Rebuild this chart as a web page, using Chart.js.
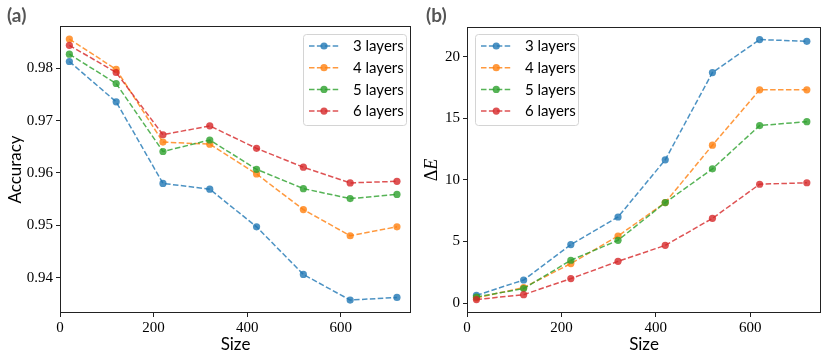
<!DOCTYPE html>
<html><head><meta charset="utf-8">
<script src="https://cdn.jsdelivr.net/npm/chart.js@4"></script>
<style>
html,body{margin:0;padding:0;background:#fff;}
#wrap{position:relative;width:830px;height:358px;overflow:hidden;background:#fff;}
.pane{position:absolute;top:0;width:415px;height:358px;}
.lab{position:absolute;font-family:Lato,"DejaVu Sans",sans-serif;font-weight:bold;font-size:19px;color:#555;line-height:22px;}
</style></head><body>
<div id="wrap">
<div class="pane" style="left:0"><canvas id="c1" width="415" height="358"></canvas></div>
<div class="pane" style="left:415px"><canvas id="c2" width="415" height="358"></canvas></div>
<div class="lab" style="left:7px;top:4px">(a)</div>
<div class="lab" style="left:426px;top:4px">(b)</div>
</div>
<script>
// ---- data ----
const sizes = [20, 120, 220, 320, 420, 520, 620, 720];
const seriesLabels = ['3 layers', '4 layers', '5 layers', '6 layers'];
const acc3 = [0.9813, 0.9736, 0.9580, 0.9569, 0.9497, 0.9406, 0.9357, 0.9362];
const acc4 = [0.9856, 0.9798, 0.9659, 0.9655, 0.9598, 0.9530, 0.9480, 0.9497];
const acc5 = [0.9827, 0.9771, 0.9641, 0.9663, 0.9607, 0.9570, 0.9551, 0.9559];
const acc6 = [0.9844, 0.9792, 0.9673, 0.9690, 0.9647, 0.9611, 0.9581, 0.9584];
const de3 = [0.62, 1.87, 4.74, 6.98, 11.62, 18.70, 21.38, 21.24];
const de4 = [0.42, 1.25, 3.20, 5.44, 8.15, 12.81, 17.30, 17.30];
const de5 = [0.49, 1.17, 3.47, 5.09, 8.15, 10.89, 14.40, 14.72];
const de6 = [0.28, 0.68, 1.98, 3.38, 4.68, 6.87, 9.64, 9.76];
const xTicks = [0, 200, 400, 600];
const accTicks = [0.94, 0.95, 0.96, 0.97, 0.98];
const deTicks = [0, 5, 10, 15, 20];

const colors = ['rgba(31,119,180,0.8)', 'rgba(255,127,14,0.8)', 'rgba(44,160,44,0.8)', 'rgba(214,39,40,0.8)'];

function makeDatasets(arrs) {
  return arrs.map((a, i) => ({
    label: seriesLabels[i],
    data: a.map((v, j) => ({x: sizes[j], y: v})),
    borderColor: colors[i],
    backgroundColor: colors[i],
    pointBackgroundColor: colors[i],
    pointBorderWidth: 0,
    pointRadius: 3.6,
    borderWidth: 1.5,
    borderDash: [5.5, 2.4],
    tension: 0,
    fill: false,
    order: 4 - i
  }));
}

const framePlugin = {
  id: 'frame',
  afterDraw(chart) {
    const a = chart.chartArea, ctx = chart.ctx;
    ctx.save();
    ctx.strokeStyle = '#222';
    ctx.lineWidth = 1;
    ctx.strokeRect(Math.round(a.left) + 0.5, Math.round(a.top) + 0.5, Math.round(a.right - a.left) - 1, Math.round(a.bottom - a.top) - 1);
    ctx.restore();
  }
};

// mathtext-like y title: upright Delta, italic E
const mathTitlePlugin = {
  id: 'mathTitle',
  afterDraw(chart, args, o) {
    if (!o || !o.parts) return;
    const ctx = chart.ctx, a = chart.chartArea;
    ctx.save();
    ctx.translate(o.x, (a.top + a.bottom) / 2);
    ctx.rotate(-Math.PI / 2);
    ctx.fillStyle = '#000';
    ctx.textBaseline = 'middle';
    ctx.textAlign = 'left';
    let total = 0;
    o.parts.forEach(p => { ctx.font = p.font; total += ctx.measureText(p.text).width; });
    let cx = -total / 2;
    o.parts.forEach(p => { ctx.font = p.font; ctx.fillText(p.text, cx, 0); cx += ctx.measureText(p.text).width; });
    ctx.restore();
  }
};

const legendPlugin = {
  id: 'inLegend',
  afterDraw(chart, args, o) {
    const ctx = chart.ctx;
    ctx.save();
    const x = o.x, y = o.y, w = o.w, h = o.h, r = 3;
    ctx.beginPath();
    ctx.moveTo(x + r, y);
    ctx.lineTo(x + w - r, y); ctx.arcTo(x + w, y, x + w, y + r, r);
    ctx.lineTo(x + w, y + h - r); ctx.arcTo(x + w, y + h, x + w - r, y + h, r);
    ctx.lineTo(x + r, y + h); ctx.arcTo(x, y + h, x, y + h - r, r);
    ctx.lineTo(x, y + r); ctx.arcTo(x, y, x + r, y, r);
    ctx.closePath();
    ctx.fillStyle = 'rgba(255,255,255,0.8)';
    ctx.fill();
    ctx.strokeStyle = '#d4d4d4';
    ctx.lineWidth = 1;
    ctx.stroke();
    chart.data.datasets.forEach((ds, i) => {
      const yy = o.y0 + i * o.dy;
      ctx.strokeStyle = ds.borderColor;
      ctx.lineWidth = 1.5;
      ctx.setLineDash([5.5, 2.4]);
      ctx.beginPath(); ctx.moveTo(o.lx1, yy); ctx.lineTo(o.lx2, yy); ctx.stroke();
      ctx.setLineDash([]);
      ctx.fillStyle = ds.pointBackgroundColor;
      ctx.beginPath(); ctx.arc((o.lx1 + o.lx2) / 2, yy, 3.6, 0, Math.PI * 2); ctx.fill();
      ctx.fillStyle = '#000';
      ctx.font = '15px Lato, "DejaVu Sans", sans-serif';
      ctx.textBaseline = 'middle';
      ctx.textAlign = 'left';
      ctx.fillText(ds.label, o.tx, yy + 0.5);
    });
    ctx.restore();
  }
};

const tickFont = {family: '"Liberation Serif", "DejaVu Serif", serif', size: 15};
const titleFont = {family: 'Lato, "DejaVu Sans", sans-serif', size: 17};

function makeChart(id, datasets, cfg) {
  return new Chart(document.getElementById(id), {
    type: 'line',
    data: {datasets},
    plugins: [framePlugin, legendPlugin, mathTitlePlugin],
    options: {
      responsive: false,
      animation: false,
      devicePixelRatio: 1,
      layout: {padding: {left: 0, right: cfg.padRight, top: cfg.padTop, bottom: 0}},
      plugins: {
        legend: {display: false},
        tooltip: {enabled: false},
        inLegend: cfg.legend,
        mathTitle: cfg.mathTitle || {}
      },
      scales: {
        x: {
          type: 'linear',
          min: 0, max: 750,
          afterFit: s => { s.height = 45; },
          afterBuildTicks: s => { s.ticks = xTicks.map(v => ({value: v})); },
          ticks: {font: tickFont, color: '#000', padding: 2, maxRotation: 0, callback: v => String(v)},
          grid: {display: true, drawOnChartArea: false, drawTicks: true, tickLength: 4, color: '#222', lineWidth: 1},
          border: {display: false},
          title: {display: true, text: 'Size', font: titleFont, color: '#000', padding: {top: 0, bottom: 3}}
        },
        y: {
          type: 'linear',
          min: cfg.yMin, max: cfg.yMax,
          afterFit: s => { s.width = cfg.yWidth; },
          afterBuildTicks: s => { s.ticks = cfg.yTicks.map(v => ({value: v})); },
          ticks: {font: tickFont, color: '#000', padding: 3, callback: cfg.fmt},
          grid: {display: true, drawOnChartArea: false, drawTicks: true, tickLength: 4, color: '#222', lineWidth: 1},
          border: {display: false},
          title: {display: !!cfg.yTitle, text: cfg.yTitle || '', font: titleFont, color: '#000', padding: {top: 5, bottom: 0}}
        }
      }
    }
  });
}

makeChart('c1', makeDatasets([acc3, acc4, acc5, acc6]), {
  padRight: 1, padTop: 26, yWidth: 60,
  yMin: 0.93323, yMax: 0.98809, yTicks: accTicks,
  fmt: v => Number(v).toFixed(2),
  yTitle: 'Accuracy',
  legend: {x: 303.5, y: 34.5, w: 103, h: 91, y0: 46, dy: 21.7, lx1: 309, lx2: 339, tx: 353}
});

makeChart('c2', makeDatasets([de3, de4, de5, de6]), {
  padRight: 9, padTop: 27, yWidth: 52,
  yMin: -0.81, yMax: 22.4, yTicks: deTicks,
  fmt: v => String(v),
  yTitle: null,
  mathTitle: {x: 17, parts: [
    {text: 'Δ', font: '18px "Liberation Serif", "DejaVu Serif", serif'},
    {text: 'E', font: 'italic 18px "Liberation Serif", "DejaVu Serif", serif'}
  ]},
  legend: {x: 60.5, y: 34.5, w: 103, h: 91, y0: 46, dy: 21.7, lx1: 66, lx2: 96.5, tx: 110}
});
</script>
</body></html>
